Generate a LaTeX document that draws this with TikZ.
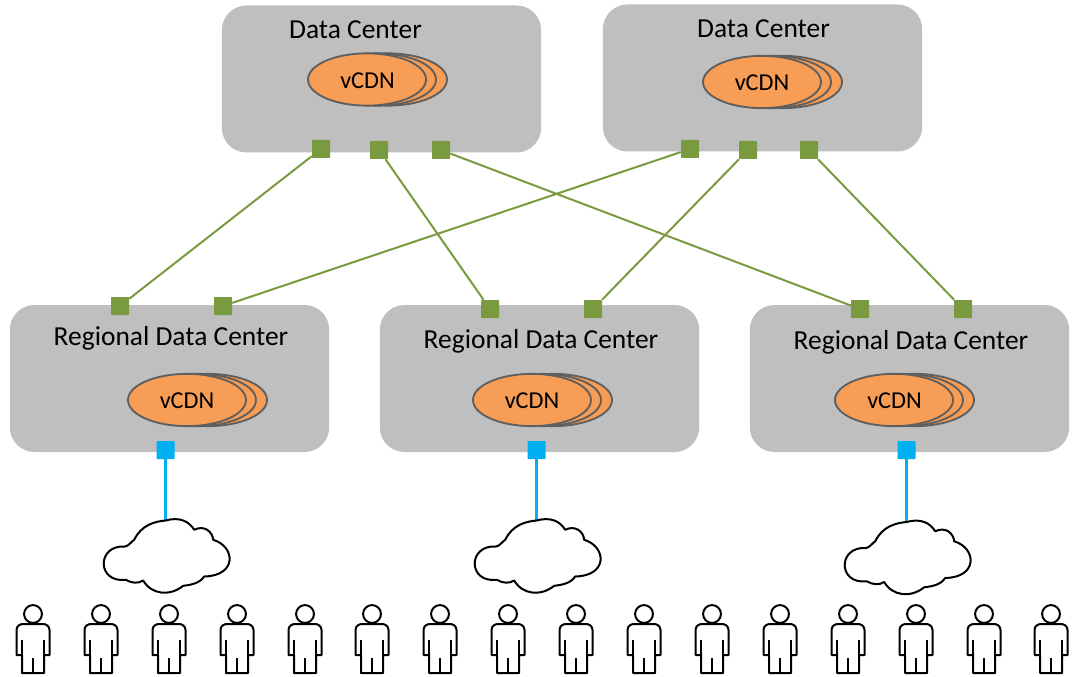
\documentclass[tikz,border=0pt]{standalone}
\usepackage{fontspec}
\setmainfont{Carlito}
\definecolor{boxgray}{HTML}{BFBFBF}
\definecolor{portgreen}{HTML}{7A9A3F}
\definecolor{portblue}{HTML}{00B0F0}
\definecolor{vorange}{HTML}{F79D55}
\definecolor{vedge}{HTML}{5F5F5F}
\tikzset{
  x=0.75pt,y=-0.75pt,
  centerbox/.style={fill=boxgray,draw=none,rounded corners=18.5pt,minimum width=239.5pt,minimum height=110.25pt,inner sep=0pt},
  gport/.style={fill=portgreen,draw=none,minimum size=13.5pt,inner sep=0pt,rounded corners=0.5pt},
  bport/.style={fill=portblue,draw=none,minimum size=13.5pt,inner sep=0pt,rounded corners=0.5pt},
  gline/.style={draw=portgreen,line width=1.5pt},
  bline/.style={draw=portblue,line width=1.7pt},
  label/.style={font=\fontsize{20.6}{22}\selectfont,inner sep=0pt,text=black},
  vlabel/.style={font=\fontsize{18.2}{22}\selectfont,inner sep=0pt,text=black},
  velps/.style={fill=vorange,draw=vedge,line width=1.4pt},
  pic line/.style={draw=black,line width=1.5pt,line join=round},
  vcdn/.pic={
    \path[velps] (21,0) ellipse [x radius=44.25pt,y radius=19.6pt];
    \path[velps] (10,0) ellipse [x radius=44.25pt,y radius=19.6pt];
    \path[velps] (0,0) ellipse [x radius=44.25pt,y radius=19.6pt];
  },
  cloudpic/.pic={
    \path[pic line,fill=white] (0,0)
      .. controls (14.3,-4) and (23.7,1) .. (28.7,9.3)
      .. controls (38.7,4.3) and (47,11) .. (47.7,19.3)
      .. controls (70,26) and (72,55.3) .. (38.7,56)
      .. controls (34.3,62.7) and (26,64.3) .. (17.7,65.3)
      .. controls (4.3,76) and (-14,74.3) .. (-22.3,60)
      .. controls (-27.3,63.3) and (-34,62.7) .. (-39.7,59.3)
      .. controls (-69,62.7) and (-69,24.3) .. (-40.7,26)
      .. controls (-37.3,26) and (-34,21) .. (-31.3,19.3)
      .. controls (-24,4.3) and (-10.7,1) .. (0,0) -- cycle;
  },
  personpic/.pic={
    \path[pic line] (0,-14) circle [radius=6.7pt];
    \path[pic line] (-16.5,27) -- (-16.5,2)
      .. controls (-16.5,-2) and (-13,-4) .. (-10,-4) -- (10,-4)
      .. controls (13,-4) and (16.5,-2) .. (16.5,2) -- (16.5,27)
      -- (11,27) -- (11,45) -- (-11,45) -- (-11,27) -- cycle;
    \path[pic line,line width=1.9pt] (-11,12) -- (-11,27);
    \path[pic line,line width=1.9pt] (11,12) -- (11,27);
    \path[pic line,line width=1.9pt] (0,30) -- (0,45);
  }
}
\begin{document}
\begin{tikzpicture}
\useasboundingbox (0,0) rectangle (1074,677);
% boxes
\node[centerbox] (dc1) at (381.5,79) {};
\node[centerbox] (dc2) at (762.5,78) {};
\node[centerbox] (rdc1) at (169.5,378.5) {};
\node[centerbox] (rdc2) at (539.5,378.5) {};
\node[centerbox] (rdc3) at (909.5,378.5) {};
% titles
\node[label] (t1) at (355.5,30) {Data Center};
\node[label] (t2) at (763.5,29) {Data Center};
\node[label] (t3) at (171,338) {Regional Data Center};
\node[label] (t4) at (541,341) {Regional Data Center};
\node[label] (t5) at (911,342) {Regional Data Center};
% vCDN
\pic at (367,79.5) {vcdn};
\node[vlabel] (v1) at (367.5,81) {vCDN};
\pic at (762,82) {vcdn};
\node[vlabel] (v2) at (762,83) {vCDN};
\pic at (187,400) {vcdn};
\node[vlabel] (v3) at (187,400.5) {vCDN};
\pic at (532,400) {vcdn};
\node[vlabel] (v4) at (532,400.5) {vCDN};
\pic at (894,400) {vcdn};
\node[vlabel] (v5) at (894.5,400.5) {vCDN};
% ports
\node[gport] (a1) at (321,149) {};
\node[gport] (a2) at (379,150) {};
\node[gport] (a3) at (441,150) {};
\node[gport] (b1) at (690,149) {};
\node[gport] (b2) at (748,150) {};
\node[gport] (b3) at (809,150) {};
\node[gport] (c1) at (120,306) {};
\node[gport] (c2) at (223,306) {};
\node[gport] (d1) at (490,309) {};
\node[gport] (d2) at (593,309) {};
\node[gport] (e1) at (860,309) {};
\node[gport] (e2) at (963,309) {};
\node[bport] (p1) at (165.5,450) {};
\node[bport] (p2) at (536.5,450) {};
\node[bport] (p3) at (906.5,450) {};
% green links
\draw[gline] (a1) -- (c1);
\draw[gline] (a2) -- (d1);
\draw[gline] (a3) -- (e1);
\draw[gline] (b1) -- (c2);
\draw[gline] (b2) -- (d2);
\draw[gline] (b3) -- (e2);
% clouds
\coordinate (k1) at (165.5,520.5);
\coordinate (k2) at (536.5,520.5);
\coordinate (k3) at (906.5,522);
\draw[bline] (p1) -- (k1);
\draw[bline] (p2) -- (k2);
\draw[bline] (p3) -- (k3);
\pic at (k1) {cloudpic};
\pic at (k2) {cloudpic};
\pic at (k3) {cloudpic};
% people
\foreach \px in {33,101,169,237,305,372,440,508,576,644,712,780,848,916,984,1051}
  \pic at (\px,628) {personpic};
\end{tikzpicture}
\end{document}
